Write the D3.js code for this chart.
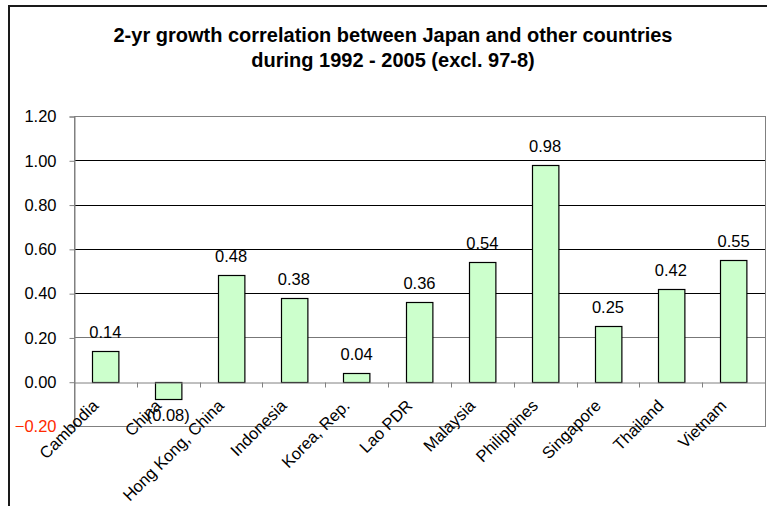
<!DOCTYPE html>
<html>
<head>
<meta charset="utf-8">
<script src="https://cdn.jsdelivr.net/npm/d3@7"></script>
<style>
  body { margin: 0; background: #fff; }
  text { font-family: "Liberation Sans", Arial, sans-serif; }
</style>
</head>
<body>
<div id="chart"></div>
<script>
// chart data
const countries = ["Cambodia", "China", "Hong Kong, China", "Indonesia", "Korea, Rep.", "Lao PDR",
  "Malaysia", "Philippines", "Singapore", "Thailand", "Vietnam"];
const correlation = [0.14, -0.08, 0.48, 0.38, 0.04, 0.36, 0.54, 0.98, 0.25, 0.42, 0.55];
const yTicks = [-0.2, 0, 0.2, 0.4, 0.6, 0.8, 1.0, 1.2];
const titleLines = ["2-yr growth correlation between Japan and other countries",
  "during 1992 - 2005 (excl. 97-8)"];

const width = 767, height = 506;
const plot = { left: 74, right: 765, top: 116, bottom: 426 };
const fontSize = "16.5px";

const svg = d3.select("#chart").append("svg")
    .attr("width", width)
    .attr("height", height);

// outer chart border (runs off the right and bottom of the picture)
svg.append("rect")
    .attr("x", 9).attr("y", 6)
    .attr("width", 800).attr("height", 600)
    .attr("fill", "none")
    .attr("stroke", "#1a1a1a")
    .attr("stroke-width", 2);

// title
svg.append("text")
    .attr("text-anchor", "middle")
    .style("font-size", "20px")
    .style("font-weight", "bold")
    .selectAll("tspan")
    .data(titleLines)
    .enter().append("tspan")
    .attr("x", 393)
    .attr("y", (d, i) => 42 + i * 25)
    .text(d => d);

const x = d3.scaleBand()
    .domain(countries)
    .range([plot.left, plot.right])
    .paddingInner(0.58)
    .paddingOuter(0.29);

const y = d3.scaleLinear()
    .domain([-0.2, 1.2])
    .range([plot.bottom, plot.top]);

// gridlines
svg.append("g")
    .selectAll("line")
    .data(yTicks.filter(t => t > 0.1 && t < 1.1))
    .enter().append("line")
    .attr("x1", plot.left).attr("x2", plot.right)
    .attr("y1", d => Math.round(y(d)) + 0.5)
    .attr("y2", d => Math.round(y(d)) + 0.5)
    .attr("stroke", d => d < 0.3 ? "#777" : "#000");

// plot area border
svg.append("rect")
    .attr("x", plot.left + 0.5).attr("y", Math.round(plot.top) + 0.5)
    .attr("width", plot.right - plot.left)
    .attr("height", plot.bottom - plot.top)
    .attr("fill", "none")
    .attr("stroke", "#808080");

// y axis
const yAxis = svg.append("g")
    .attr("transform", `translate(${plot.left + 0.5},0.5)`)
    .call(d3.axisLeft(y).tickValues(yTicks).tickFormat(d3.format(".2f")).tickSize(5).tickPadding(13));
yAxis.select(".domain").attr("stroke", "#808080");
yAxis.selectAll(".tick line").attr("stroke", "#808080");
yAxis.selectAll(".tick text")
    .style("font-size", fontSize)
    .attr("fill", d => d < 0 ? "#ff2a00" : "#000")
    .attr("font-family", null);

// bars
svg.append("g")
    .selectAll("rect")
    .data(countries)
    .enter().append("rect")
    .attr("x", d => Math.round(x(d)) + 0.5)
    .attr("y", (d, i) => Math.round(y(Math.max(0, correlation[i]))) + 0.5)
    .attr("width", x.bandwidth())
    .attr("height", (d, i) => Math.abs(Math.round(y(correlation[i])) - Math.round(y(0))))
    .attr("fill", "#ccffcc")
    .attr("stroke", "#000")
    .attr("stroke-width", 1.2);

// zero axis with category ticks
const xAxis = svg.append("g")
    .attr("transform", `translate(0.5,${Math.round(y(0)) + 0.5})`)
    .call(d3.axisBottom(x).tickSize(0).tickFormat(""));
xAxis.select(".domain").attr("stroke", "#808080");
xAxis.append("g")
    .selectAll("line")
    .data(countries.slice(1))
    .enter().append("line")
    .attr("x1", d => Math.round(x(d) - x.step() * x.paddingInner() / 2))
    .attr("x2", d => Math.round(x(d) - x.step() * x.paddingInner() / 2))
    .attr("y1", 0).attr("y2", 5)
    .attr("stroke", "#808080");

// category labels
svg.append("g")
    .selectAll("text")
    .data(countries)
    .enter().append("text")
    .attr("transform", d => `translate(${x(d) + x.bandwidth() / 2 - 6},${y(0) + 25}) rotate(-45)`)
    .attr("text-anchor", "end")
    .style("font-size", fontSize)
    .text(d => d);

// value labels
const fmt = v => v < 0 ? `(${d3.format(".2f")(-v)})` : d3.format(".2f")(v);
svg.append("g")
    .selectAll("text")
    .data(countries)
    .enter().append("text")
    .attr("x", d => x(d) + x.bandwidth() / 2)
    .attr("y", (d, i) => correlation[i] < 0 ? y(correlation[i]) + 22 : y(correlation[i]) - 13)
    .attr("text-anchor", "middle")
    .style("font-size", fontSize)
    .text((d, i) => fmt(correlation[i]));
</script>
</body>
</html>
